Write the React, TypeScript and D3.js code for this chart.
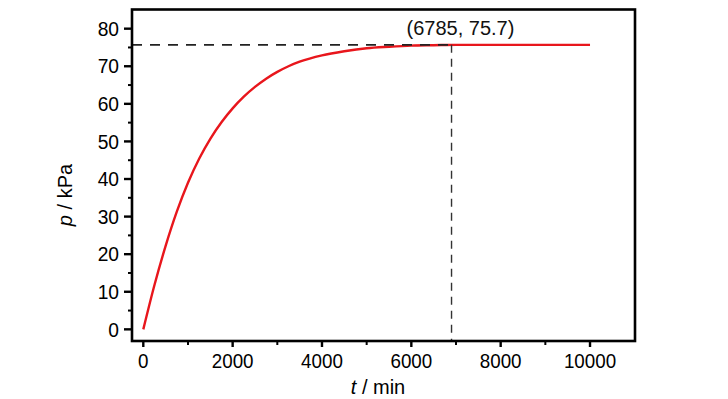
import * as d3 from 'd3';

// time (min) and pressure (kPa)
const times = [0, 250, 500, 750, 1000, 1250, 1500, 1750, 2000, 2250, 2500, 2750, 3000, 3250, 3500, 4000, 4500, 5000, 5500, 6000, 6500, 7000, 8000, 9000, 10000];
const pressures = [0, 11.8, 22.2, 31.3, 39.0, 45.4, 50.7, 55.1, 58.8, 61.9, 64.5, 66.7, 68.5, 70.0, 71.2, 72.9, 74.0, 74.8, 75.2, 75.5, 75.6, 75.7, 75.7, 75.7, 75.7];

const xTicks = [0, 2000, 4000, 6000, 8000, 10000];
const xMinor = [1000, 3000, 5000, 7000, 9000];
const yTicks = [0, 10, 20, 30, 40, 50, 60, 70, 80];
const yMinor = [5, 15, 25, 35, 45, 55, 65, 75];

const markT = 6900;
const markP = 75.7;
const markLabel = '(6785, 75.7)';

const W = 728;
const H = 399;
const margin = { left: 132, right: 93, top: 9.5, bottom: 58 };

export default function App() {
  const x = d3.scaleLinear().domain([-253, 11007]).range([margin.left, W - margin.right]);
  const y = d3.scaleLinear().domain([-3.1, 85.1]).range([H - margin.bottom, margin.top]);

  const pts = times.map((t, i) => [t, pressures[i]] as [number, number]);
  const line = d3.line<[number, number]>()
    .x(d => x(d[0]))
    .y(d => y(d[1]))
    .curve(d3.curveMonotoneX);

  const x0 = margin.left;
  const x1 = W - margin.right;
  const y0 = H - margin.bottom;
  const y1 = margin.top;
  const font = '"Liberation Sans", Arial, sans-serif';

  return (
    <svg width={W} height={H} style={{ position: 'absolute', left: 0, top: 0, background: '#fff' }}>
      <path d={line(pts) ?? ''} fill="none" stroke="#e8161c" strokeWidth={2.4} />

      {/* guide lines to the marked point */}
      <line x1={x0} x2={x(markT)} y1={y(markP)} y2={y(markP)} stroke="#222" strokeWidth={1.7} strokeDasharray="10,8" />
      <line x1={x(markT)} x2={x(markT)} y1={y(markP)} y2={y0} stroke="#333" strokeWidth={1.4} strokeDasharray="8,6" />
      <text x={x(markT) - 45} y={35} fontFamily={font} fontSize={20} fill="#111">{markLabel}</text>

      {/* frame */}
      <rect x={x0} y={y1} width={x1 - x0} height={y0 - y1} fill="none" stroke="#000" strokeWidth={2.6} />

      {/* y axis ticks */}
      {yTicks.map(v => (
        <g key={'y' + v}>
          <line x1={x0 - 8} x2={x0} y1={y(v)} y2={y(v)} stroke="#000" strokeWidth={2.4} />
          <text transform={`translate(${x0 - 13},${y(v)}) scale(0.96,1)`} dy="0.36em" textAnchor="end" fontFamily={font} fontSize={20} fill="#000">{v}</text>
        </g>
      ))}
      {yMinor.map(v => (
        <line key={'ym' + v} x1={x0 - 4} x2={x0} y1={y(v)} y2={y(v)} stroke="#000" strokeWidth={2} />
      ))}

      {/* x axis ticks */}
      {xTicks.map(v => (
        <g key={'x' + v}>
          <line x1={x(v)} x2={x(v)} y1={y0} y2={y0 + 6} stroke="#000" strokeWidth={2.4} />
          <text transform={`translate(${x(v)},368) scale(0.94,1)`} textAnchor="middle" fontFamily={font} fontSize={20} fill="#000">{v}</text>
        </g>
      ))}
      {xMinor.map(v => (
        <line key={'xm' + v} x1={x(v)} x2={x(v)} y1={y0} y2={y0 + 4} stroke="#000" strokeWidth={2} />
      ))}

      {/* axis titles */}
      <text x={378} y={394} textAnchor="middle" fontFamily={font} fontSize={20} fill="#000">
        <tspan fontStyle="italic">t</tspan> / min
      </text>
      <text transform={`translate(72,195) rotate(-90)`} textAnchor="middle" fontFamily={font} fontSize={20} fill="#000">
        <tspan fontStyle="italic">p</tspan> / kPa
      </text>
    </svg>
  );
}
